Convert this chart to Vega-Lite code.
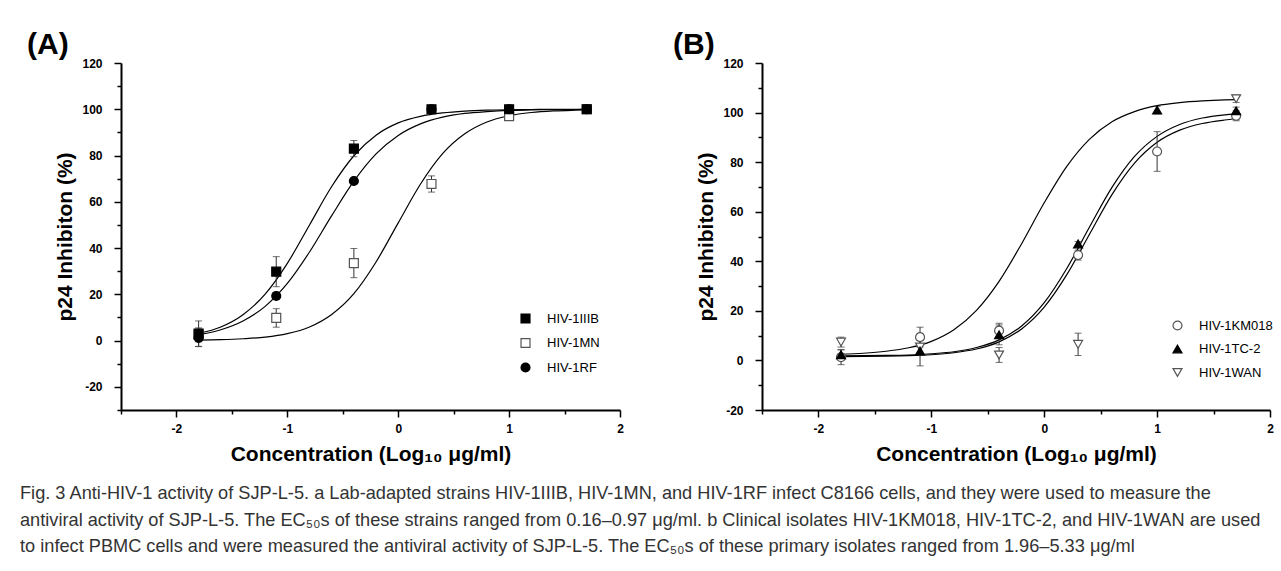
{
  "$schema": "https://vega.github.io/schema/vega-lite/v6.json",
  "padding": {"left": 20, "top": 30, "right": 0, "bottom": 0},
  "background": "white",
  "config": {
    "view": {"stroke": null},
    "font": "Liberation Sans",
    "axis": {
      "grid": false,
      "domainColor": "black",
      "domainWidth": 2,
      "tickColor": "black",
      "tickWidth": 1.5,
      "labelFont": "Liberation Sans",
      "labelFontWeight": "bold",
      "labelFontSize": 12,
      "labelColor": "black",
      "labelFlush": false,
      "labelOverlap": false,
      "titleFont": "Liberation Sans",
      "titleFontSize": 21,
      "titleFontWeight": "bold",
      "titleColor": "black"
    }
  },
  "title": {
    "text": [
      "Fig. 3 Anti-HIV-1 activity of SJP-L-5. a Lab-adapted strains HIV-1IIIB, HIV-1MN, and HIV-1RF infect C8166 cells, and they were used to measure the",
      "antiviral activity of SJP-L-5. The EC₅₀s of these strains ranged from 0.16–0.97 μg/ml. b Clinical isolates HIV-1KM018, HIV-1TC-2, and HIV-1WAN are used",
      "to infect PBMC cells and were measured the antiviral activity of SJP-L-5. The EC₅₀s of these primary isolates ranged from 1.96–5.33 μg/ml"
    ],
    "orient": "bottom",
    "anchor": "start",
    "frame": "bounds",
    "dx": -7,
    "offset": 21,
    "font": "Liberation Sans",
    "fontSize": 18.2,
    "fontWeight": "normal",
    "color": "#333333",
    "lineHeight": 26.5
  },
  "datasets": {
    "pointsA": [
      {"strain": "HIV-1MN", "x": -1.8, "y": 2.5, "err": 3},
      {"strain": "HIV-1MN", "x": -1.1, "y": 9.8, "err": 4},
      {"strain": "HIV-1MN", "x": -0.4, "y": 33.5, "err": 6.3},
      {"strain": "HIV-1MN", "x": 0.3, "y": 67.7, "err": 3.5},
      {"strain": "HIV-1MN", "x": 1.0, "y": 97, "err": 1},
      {"strain": "HIV-1MN", "x": 1.7, "y": 100, "err": 0.5},
      {"strain": "HIV-1IIIB", "x": -1.8, "y": 3, "err": 5.5},
      {"strain": "HIV-1IIIB", "x": -1.1, "y": 29.8, "err": 6.5},
      {"strain": "HIV-1IIIB", "x": -0.4, "y": 83, "err": 3.5},
      {"strain": "HIV-1IIIB", "x": 0.3, "y": 100, "err": 0.8},
      {"strain": "HIV-1IIIB", "x": 1.0, "y": 100, "err": 0.5},
      {"strain": "HIV-1IIIB", "x": 1.7, "y": 100, "err": 0.5},
      {"strain": "HIV-1RF", "x": -1.8, "y": 1.2, "err": 3.8},
      {"strain": "HIV-1RF", "x": -1.1, "y": 19.3, "err": 1.5},
      {"strain": "HIV-1RF", "x": -0.4, "y": 69, "err": 1},
      {"strain": "HIV-1RF", "x": 0.3, "y": 100, "err": 0.5},
      {"strain": "HIV-1RF", "x": 1.0, "y": 100, "err": 0.5},
      {"strain": "HIV-1RF", "x": 1.7, "y": 100, "err": 0.5}
    ],
    "curvesA": [
      {"strain": "HIV-1IIIB", "x": -1.8, "y": 3.1}, {"strain": "HIV-1IIIB", "x": -1.6, "y": 5.9}, {"strain": "HIV-1IIIB", "x": -1.4, "y": 11.2}, {"strain": "HIV-1IIIB", "x": -1.2, "y": 20.1}, {"strain": "HIV-1IIIB", "x": -1.0, "y": 33.4}, {"strain": "HIV-1IIIB", "x": -0.8, "y": 50}, {"strain": "HIV-1IIIB", "x": -0.6, "y": 66.6}, {"strain": "HIV-1IIIB", "x": -0.4, "y": 79.9}, {"strain": "HIV-1IIIB", "x": -0.2, "y": 88.8}, {"strain": "HIV-1IIIB", "x": 0, "y": 94.1}, {"strain": "HIV-1IIIB", "x": 0.2, "y": 96.9}, {"strain": "HIV-1IIIB", "x": 0.4, "y": 98.4}, {"strain": "HIV-1IIIB", "x": 0.6, "y": 99.2}, {"strain": "HIV-1IIIB", "x": 0.8, "y": 99.6}, {"strain": "HIV-1IIIB", "x": 1.0, "y": 99.8}, {"strain": "HIV-1IIIB", "x": 1.2, "y": 99.9}, {"strain": "HIV-1IIIB", "x": 1.4, "y": 100}, {"strain": "HIV-1IIIB", "x": 1.6, "y": 100}, {"strain": "HIV-1IIIB", "x": 1.7, "y": 100},
      {"strain": "HIV-1RF", "x": -1.8, "y": 2.5}, {"strain": "HIV-1RF", "x": -1.6, "y": 4.7}, {"strain": "HIV-1RF", "x": -1.4, "y": 8.5}, {"strain": "HIV-1RF", "x": -1.2, "y": 14.8}, {"strain": "HIV-1RF", "x": -1.0, "y": 24.7}, {"strain": "HIV-1RF", "x": -0.8, "y": 38.3}, {"strain": "HIV-1RF", "x": -0.6, "y": 54.0}, {"strain": "HIV-1RF", "x": -0.4, "y": 68.9}, {"strain": "HIV-1RF", "x": -0.2, "y": 80.7}, {"strain": "HIV-1RF", "x": 0, "y": 88.7}, {"strain": "HIV-1RF", "x": 0.2, "y": 93.7}, {"strain": "HIV-1RF", "x": 0.4, "y": 96.6}, {"strain": "HIV-1RF", "x": 0.6, "y": 98.2}, {"strain": "HIV-1RF", "x": 0.8, "y": 99.0}, {"strain": "HIV-1RF", "x": 1.0, "y": 99.5}, {"strain": "HIV-1RF", "x": 1.2, "y": 99.7}, {"strain": "HIV-1RF", "x": 1.4, "y": 99.85}, {"strain": "HIV-1RF", "x": 1.6, "y": 99.9}, {"strain": "HIV-1RF", "x": 1.7, "y": 99.95},
      {"strain": "HIV-1MN", "x": -1.8, "y": 0.2}, {"strain": "HIV-1MN", "x": -1.6, "y": 0.4}, {"strain": "HIV-1MN", "x": -1.4, "y": 0.8}, {"strain": "HIV-1MN", "x": -1.2, "y": 1.5}, {"strain": "HIV-1MN", "x": -1.0, "y": 3.0}, {"strain": "HIV-1MN", "x": -0.8, "y": 5.9}, {"strain": "HIV-1MN", "x": -0.6, "y": 11.3}, {"strain": "HIV-1MN", "x": -0.4, "y": 20.3}, {"strain": "HIV-1MN", "x": -0.2, "y": 34.0}, {"strain": "HIV-1MN", "x": 0, "y": 50.9}, {"strain": "HIV-1MN", "x": 0.2, "y": 67.6}, {"strain": "HIV-1MN", "x": 0.4, "y": 80.8}, {"strain": "HIV-1MN", "x": 0.6, "y": 89.4}, {"strain": "HIV-1MN", "x": 0.8, "y": 94.5}, {"strain": "HIV-1MN", "x": 1.0, "y": 97.2}, {"strain": "HIV-1MN", "x": 1.2, "y": 98.6}, {"strain": "HIV-1MN", "x": 1.4, "y": 99.3}, {"strain": "HIV-1MN", "x": 1.6, "y": 99.6}, {"strain": "HIV-1MN", "x": 1.7, "y": 99.7}
    ],
    "pointsB": [
      {"strain": "HIV-1KM018", "x": -1.8, "y": 1.3, "err": 3},
      {"strain": "HIV-1KM018", "x": -1.1, "y": 9.4, "err": 4},
      {"strain": "HIV-1KM018", "x": -0.4, "y": 12, "err": 3},
      {"strain": "HIV-1KM018", "x": 0.3, "y": 42.5, "err": 2},
      {"strain": "HIV-1KM018", "x": 1.0, "y": 84.3, "err": 8},
      {"strain": "HIV-1KM018", "x": 1.7, "y": 98.7, "err": 2},
      {"strain": "HIV-1WAN", "x": -1.8, "y": 7.4, "err": 2},
      {"strain": "HIV-1WAN", "x": -1.1, "y": 5.4, "err": 3},
      {"strain": "HIV-1WAN", "x": -0.4, "y": 2.2, "err": 3},
      {"strain": "HIV-1WAN", "x": 0.3, "y": 6.5, "err": 4.5},
      {"strain": "HIV-1WAN", "x": 1.7, "y": 105.6, "err": 1.5},
      {"strain": "HIV-1TC-2", "x": -1.8, "y": 2.3, "err": 2},
      {"strain": "HIV-1TC-2", "x": -1.1, "y": 3.8, "err": 6},
      {"strain": "HIV-1TC-2", "x": -0.4, "y": 10.3, "err": 4},
      {"strain": "HIV-1TC-2", "x": 0.3, "y": 47, "err": 1},
      {"strain": "HIV-1TC-2", "x": 1.0, "y": 101, "err": 1.5},
      {"strain": "HIV-1TC-2", "x": 1.7, "y": 100.7, "err": 1.5}
    ],
    "curvesB": [
      {"strain": "HIV-1WAN", "x": -1.8, "y": 2.5}, {"strain": "HIV-1WAN", "x": -1.6, "y": 2.9}, {"strain": "HIV-1WAN", "x": -1.4, "y": 3.7}, {"strain": "HIV-1WAN", "x": -1.2, "y": 5.1}, {"strain": "HIV-1WAN", "x": -1.0, "y": 7.7}, {"strain": "HIV-1WAN", "x": -0.8, "y": 12.4}, {"strain": "HIV-1WAN", "x": -0.6, "y": 20.2}, {"strain": "HIV-1WAN", "x": -0.4, "y": 31.9}, {"strain": "HIV-1WAN", "x": -0.2, "y": 47.1}, {"strain": "HIV-1WAN", "x": 0, "y": 63.6}, {"strain": "HIV-1WAN", "x": 0.2, "y": 78.3}, {"strain": "HIV-1WAN", "x": 0.4, "y": 89.2}, {"strain": "HIV-1WAN", "x": 0.6, "y": 96.3}, {"strain": "HIV-1WAN", "x": 0.8, "y": 100.4}, {"strain": "HIV-1WAN", "x": 1.0, "y": 102.8}, {"strain": "HIV-1WAN", "x": 1.2, "y": 104.0}, {"strain": "HIV-1WAN", "x": 1.4, "y": 104.7}, {"strain": "HIV-1WAN", "x": 1.6, "y": 105.1}, {"strain": "HIV-1WAN", "x": 1.7, "y": 105.2},
      {"strain": "HIV-1TC-2", "x": -1.8, "y": 1.85}, {"strain": "HIV-1TC-2", "x": -1.6, "y": 1.9}, {"strain": "HIV-1TC-2", "x": -1.4, "y": 2.0}, {"strain": "HIV-1TC-2", "x": -1.2, "y": 2.2}, {"strain": "HIV-1TC-2", "x": -1.0, "y": 2.7}, {"strain": "HIV-1TC-2", "x": -0.8, "y": 3.5}, {"strain": "HIV-1TC-2", "x": -0.6, "y": 5.2}, {"strain": "HIV-1TC-2", "x": -0.4, "y": 8.3}, {"strain": "HIV-1TC-2", "x": -0.2, "y": 13.9}, {"strain": "HIV-1TC-2", "x": 0, "y": 23.3}, {"strain": "HIV-1TC-2", "x": 0.2, "y": 37.1}, {"strain": "HIV-1TC-2", "x": 0.4, "y": 53.7}, {"strain": "HIV-1TC-2", "x": 0.6, "y": 69.8}, {"strain": "HIV-1TC-2", "x": 0.8, "y": 82.3}, {"strain": "HIV-1TC-2", "x": 1.0, "y": 90.4}, {"strain": "HIV-1TC-2", "x": 1.2, "y": 95.2}, {"strain": "HIV-1TC-2", "x": 1.4, "y": 97.8}, {"strain": "HIV-1TC-2", "x": 1.6, "y": 99.1}, {"strain": "HIV-1TC-2", "x": 1.7, "y": 99.5},
      {"strain": "HIV-1KM018", "x": -1.8, "y": 1.55}, {"strain": "HIV-1KM018", "x": -1.6, "y": 1.6}, {"strain": "HIV-1KM018", "x": -1.4, "y": 1.7}, {"strain": "HIV-1KM018", "x": -1.2, "y": 1.9}, {"strain": "HIV-1KM018", "x": -1.0, "y": 2.3}, {"strain": "HIV-1KM018", "x": -0.8, "y": 3.1}, {"strain": "HIV-1KM018", "x": -0.6, "y": 4.6}, {"strain": "HIV-1KM018", "x": -0.4, "y": 7.5}, {"strain": "HIV-1KM018", "x": -0.2, "y": 12.7}, {"strain": "HIV-1KM018", "x": 0, "y": 21.5}, {"strain": "HIV-1KM018", "x": 0.2, "y": 34.6}, {"strain": "HIV-1KM018", "x": 0.4, "y": 50.8}, {"strain": "HIV-1KM018", "x": 0.6, "y": 66.9}, {"strain": "HIV-1KM018", "x": 0.8, "y": 79.6}, {"strain": "HIV-1KM018", "x": 1.0, "y": 88.0}, {"strain": "HIV-1KM018", "x": 1.2, "y": 92.9}, {"strain": "HIV-1KM018", "x": 1.4, "y": 95.6}, {"strain": "HIV-1KM018", "x": 1.6, "y": 97.0}, {"strain": "HIV-1KM018", "x": 1.7, "y": 97.5}
    ]
  },
  "spacing": 49,
  "resolve": {
    "scale": {"shape": "independent", "fill": "independent", "stroke": "independent"},
    "legend": {"shape": "independent", "fill": "independent", "stroke": "independent"}
  },
  "hconcat": [
    {
      "width": 499,
      "height": 347,
      "title": {"text": "(A)", "anchor": "start", "frame": "group", "dx": -94, "fontSize": 30, "fontWeight": "bold", "font": "Liberation Sans", "color": "black", "offset": -33, "baseline": "bottom"},
      "resolve": {"axis": {"x": "independent", "y": "independent"}},
      "layer": [
        {
          "data": {"name": "curvesA"},
          "mark": {"type": "line", "color": "black", "strokeWidth": 1.2, "interpolate": "monotone"},
          "encoding": {
            "x": {"field": "x", "type": "quantitative", "scale": {"domain": [-2.5, 2], "nice": false, "zero": false},
                  "axis": {"values": [-2, -1, 0, 1, 2], "tickSize": 7, "labelPadding": 6, "labelExpr": "'' + datum.value", "title": "Concentration (Log₁₀ μg/ml)", "titlePadding": 9}},
            "y": {"field": "y", "type": "quantitative", "scale": {"domain": [-30, 120], "nice": false, "zero": false},
                  "axis": {"values": [-20, 0, 20, 40, 60, 80, 100, 120], "tickSize": 7, "labelPadding": 12, "labelExpr": "'' + datum.value", "title": "p24 Inhibiton (%)", "titlePadding": 6}},
            "detail": {"field": "strain"}
          }
        },
        {
          "data": {"name": "pointsA"},
          "mark": {"type": "errorbar", "ticks": true, "color": "#333333", "thickness": 1, "size": 7},
          "encoding": {
            "x": {"field": "x", "type": "quantitative", "axis": null},
            "y": {"field": "y", "type": "quantitative", "axis": null},
            "yError": {"field": "err"}
          }
        },
        {
          "data": {"name": "pointsA"},
          "mark": {"type": "point", "filled": true, "size": 80, "strokeWidth": 1.2, "opacity": 1},
          "encoding": {
            "x": {"field": "x", "type": "quantitative",
                  "axis": {"orient": "bottom", "values": [-2.5, -1.5, -0.5, 0.5, 1.5], "tickSize": 4, "labels": false, "domain": false, "title": null}},
            "y": {"field": "y", "type": "quantitative",
                  "axis": {"orient": "left", "values": [-30, -10, 10, 30, 50, 70, 90, 110], "tickSize": 4, "labels": false, "domain": false, "title": null}},
            "shape": {"field": "strain", "type": "nominal", "scale": {"domain": ["HIV-1IIIB", "HIV-1MN", "HIV-1RF"], "range": ["square", "square", "circle"]},
                      "legend": {"title": null, "orient": "none", "legendX": 398, "legendY": 249, "labelFontSize": 13, "labelFont": "Liberation Sans", "labelColor": "black", "symbolSize": 80, "symbolStrokeWidth": 1.2, "rowPadding": 9.5, "labelOffset": 15, "padding": 0}},
            "fill": {"field": "strain", "type": "nominal", "scale": {"domain": ["HIV-1IIIB", "HIV-1MN", "HIV-1RF"], "range": ["black", "white", "black"]},
                     "legend": {"title": null, "orient": "none", "legendX": 398, "legendY": 249, "labelFontSize": 13, "labelFont": "Liberation Sans", "labelColor": "black", "symbolSize": 80, "symbolStrokeWidth": 1.2, "rowPadding": 9.5, "labelOffset": 15, "padding": 0}},
            "stroke": {"field": "strain", "type": "nominal", "scale": {"domain": ["HIV-1IIIB", "HIV-1MN", "HIV-1RF"], "range": ["black", "#555555", "black"]},
                       "legend": {"title": null, "orient": "none", "legendX": 398, "legendY": 249, "labelFontSize": 13, "labelFont": "Liberation Sans", "labelColor": "black", "symbolSize": 80, "symbolStrokeWidth": 1.2, "rowPadding": 9.5, "labelOffset": 15, "padding": 0}}
          }
        }
      ]
    },
    {
      "width": 508,
      "height": 347,
      "title": {"text": "(B)", "anchor": "start", "frame": "group", "dx": -89, "fontSize": 30, "fontWeight": "bold", "font": "Liberation Sans", "color": "black", "offset": -33, "baseline": "bottom"},
      "resolve": {"axis": {"x": "independent", "y": "independent"}},
      "layer": [
        {
          "data": {"name": "curvesB"},
          "mark": {"type": "line", "color": "black", "strokeWidth": 1.2, "interpolate": "monotone"},
          "encoding": {
            "x": {"field": "x", "type": "quantitative", "scale": {"domain": [-2.5, 2], "nice": false, "zero": false},
                  "axis": {"values": [-2, -1, 0, 1, 2], "tickSize": 7, "labelPadding": 6, "labelExpr": "'' + datum.value", "title": "Concentration (Log₁₀ μg/ml)", "titlePadding": 9}},
            "y": {"field": "y", "type": "quantitative", "scale": {"domain": [-20, 120], "nice": false, "zero": false},
                  "axis": {"values": [-20, 0, 20, 40, 60, 80, 100, 120], "tickSize": 7, "labelPadding": 12, "labelExpr": "'' + datum.value", "title": "p24 Inhibiton (%)", "titlePadding": 6}},
            "detail": {"field": "strain"}
          }
        },
        {
          "data": {"name": "pointsB"},
          "mark": {"type": "errorbar", "ticks": true, "color": "#333333", "thickness": 1, "size": 7},
          "encoding": {
            "x": {"field": "x", "type": "quantitative", "axis": null},
            "y": {"field": "y", "type": "quantitative", "axis": null},
            "yError": {"field": "err"}
          }
        },
        {
          "data": {"name": "pointsB"},
          "mark": {"type": "point", "filled": true, "size": 80, "strokeWidth": 1.2, "opacity": 1},
          "encoding": {
            "x": {"field": "x", "type": "quantitative",
                  "axis": {"orient": "bottom", "values": [-2.5, -1.5, -0.5, 0.5, 1.5], "tickSize": 4, "labels": false, "domain": false, "title": null}},
            "y": {"field": "y", "type": "quantitative",
                  "axis": {"orient": "left", "values": [-10, 10, 30, 50, 70, 90, 110], "tickSize": 4, "labels": false, "domain": false, "title": null}},
            "shape": {"field": "strain", "type": "nominal", "scale": {"domain": ["HIV-1KM018", "HIV-1TC-2", "HIV-1WAN"], "range": ["circle", "triangle-up", "triangle-down"]},
                      "legend": {"title": null, "orient": "none", "legendX": 409, "legendY": 256, "labelFontSize": 13, "labelFont": "Liberation Sans", "labelColor": "black", "symbolSize": 80, "symbolStrokeWidth": 1.2, "rowPadding": 9.5, "labelOffset": 15, "padding": 0}},
            "fill": {"field": "strain", "type": "nominal", "scale": {"domain": ["HIV-1KM018", "HIV-1TC-2", "HIV-1WAN"], "range": ["white", "black", "white"]},
                     "legend": {"title": null, "orient": "none", "legendX": 409, "legendY": 256, "labelFontSize": 13, "labelFont": "Liberation Sans", "labelColor": "black", "symbolSize": 80, "symbolStrokeWidth": 1.2, "rowPadding": 9.5, "labelOffset": 15, "padding": 0}},
            "stroke": {"field": "strain", "type": "nominal", "scale": {"domain": ["HIV-1KM018", "HIV-1TC-2", "HIV-1WAN"], "range": ["#555555", "black", "#555555"]},
                       "legend": {"title": null, "orient": "none", "legendX": 409, "legendY": 256, "labelFontSize": 13, "labelFont": "Liberation Sans", "labelColor": "black", "symbolSize": 80, "symbolStrokeWidth": 1.2, "rowPadding": 9.5, "labelOffset": 15, "padding": 0}}
          }
        }
      ]
    }
  ]
}
